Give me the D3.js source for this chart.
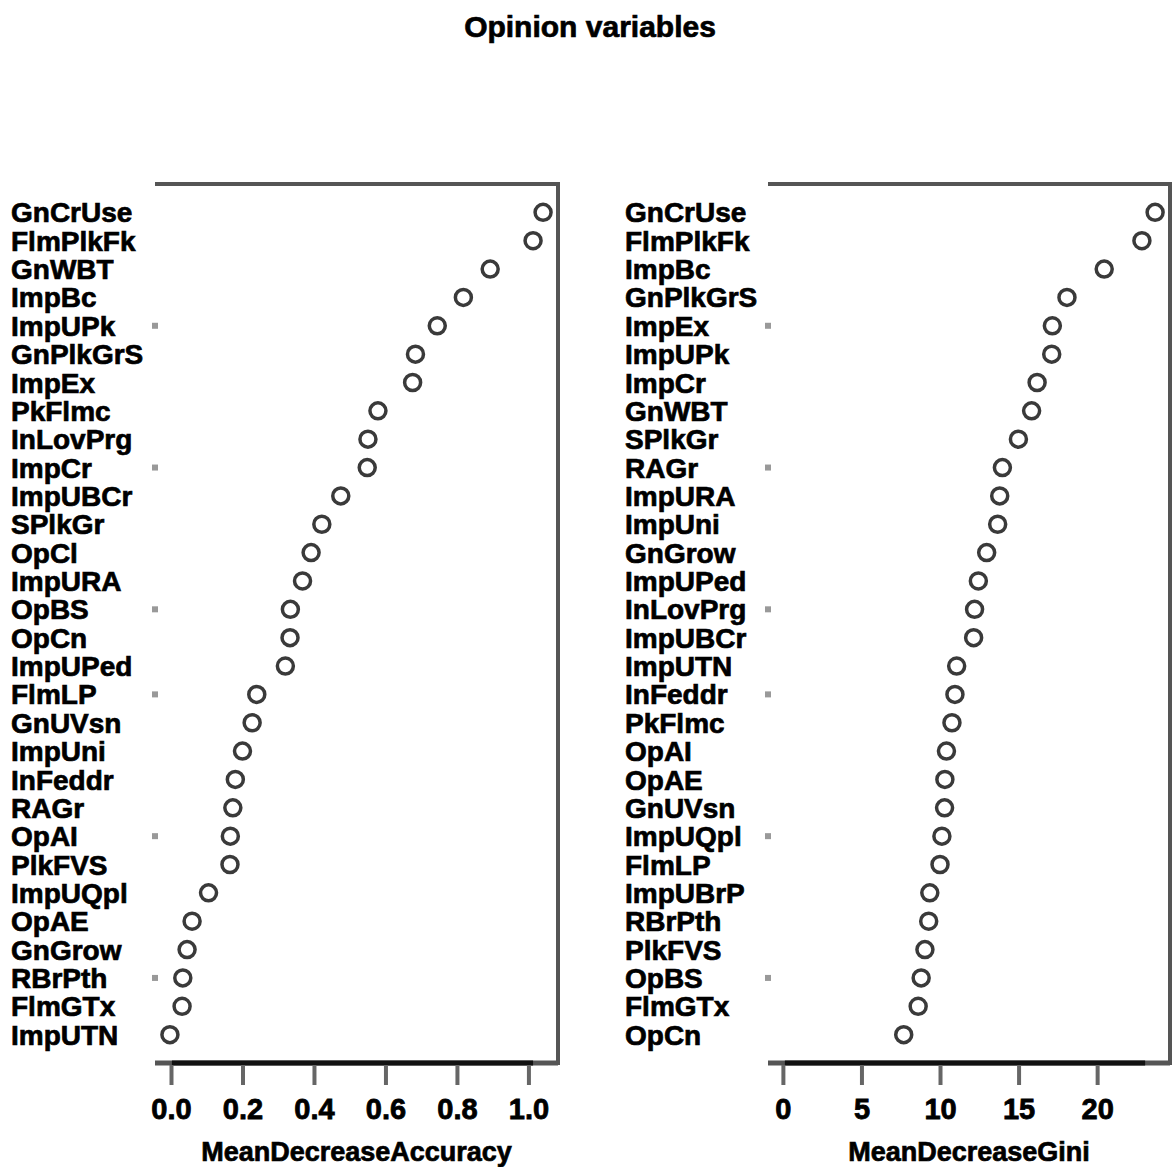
<!DOCTYPE html>
<html>
<head>
<meta charset="utf-8">
<script src="https://cdn.jsdelivr.net/npm/d3@7"></script>
<style>
  html, body { margin: 0; padding: 0; background: #fff; }
  svg text { font-family: "Liberation Sans", Arial, sans-serif; font-weight: bold; fill: #000; }
</style>
</head>
<body>
<svg id="chart" width="1175" height="1167"></svg>
<script>
// Variable importance from the random forest, sorted from most to least important.
const accuracyVars = ["GnCrUse","FlmPlkFk","GnWBT","ImpBc","ImpUPk","GnPlkGrS","ImpEx","PkFlmc",
  "InLovPrg","ImpCr","ImpUBCr","SPlkGr","OpCl","ImpURA","OpBS","OpCn","ImpUPed","FlmLP","GnUVsn",
  "ImpUni","InFeddr","RAGr","OpAI","PlkFVS","ImpUQpl","OpAE","GnGrow","RBrPth","FlmGTx","ImpUTN"];
const accuracyValues = [1.041,1.013,0.893,0.818,0.745,0.684,0.676,0.579,
  0.551,0.549,0.475,0.422,0.392,0.368,0.334,0.333,0.320,0.240,0.227,
  0.200,0.180,0.173,0.166,0.165,0.105,0.059,0.045,0.033,0.031,-0.003];

const giniVars = ["GnCrUse","FlmPlkFk","ImpBc","GnPlkGrS","ImpEx","ImpUPk","ImpCr","GnWBT","SPlkGr",
  "RAGr","ImpURA","ImpUni","GnGrow","ImpUPed","InLovPrg","ImpUBCr","ImpUTN","InFeddr","PkFlmc",
  "OpAI","OpAE","GnUVsn","ImpUQpl","FlmLP","ImpUBrP","RBrPth","PlkFVS","OpBS","FlmGTx","OpCn"];
const giniValues = [23.69,22.85,20.45,18.08,17.15,17.11,16.18,15.83,14.99,
  13.97,13.80,13.67,12.97,12.44,12.20,12.14,11.06,10.95,10.76,
  10.41,10.31,10.29,10.12,10.00,9.35,9.28,9.04,8.80,8.61,7.69];

const accuracyTicks = [0, 0.2, 0.4, 0.6, 0.8, 1.0];
const giniTicks = [0, 5, 10, 15, 20];

// rows that carry a faint guide mark at the left edge of each panel
const guideRows = [5, 10, 15, 18, 23, 28];

const svg = d3.select("#chart");
const plotTop = 184, plotBottom = 1063;

svg.append("text")
  .attr("x", 590).attr("y", 37)
  .attr("text-anchor", "middle")
  .style("font-size", "30px")
  .style("stroke", "#000").style("stroke-width", 0.7)
  .text("Opinion variables");

function panel(names, values, ticks, opts) {
  const lo = opts.fromZero ? 0 : d3.min(values);
  const hi = d3.max(values);
  const pad = 0.04 * (hi - lo);
  const x = d3.scaleLinear().domain([lo - pad, hi + pad]).range([opts.x0, opts.x1]);
  const y = d3.scalePoint().domain(d3.range(names.length)).range([plotTop, plotBottom]).padding(1);

  const g = svg.append("g");

  // frame: top and right in grey, bottom in dark
  g.append("line").attr("x1", opts.x0).attr("x2", opts.x1).attr("y1", plotTop).attr("y2", plotTop)
    .attr("stroke", "#555").attr("stroke-width", 4);
  g.append("line").attr("x1", opts.x1).attr("x2", opts.x1).attr("y1", plotTop - 2).attr("y2", plotBottom + 2)
    .attr("stroke", "#555").attr("stroke-width", 4);
  g.append("line").attr("x1", opts.x0).attr("x2", opts.x1).attr("y1", plotBottom).attr("y2", plotBottom)
    .attr("stroke", "#555").attr("stroke-width", 5);
  g.append("line").attr("x1", x(lo) + 2).attr("x2", x(hi) - 10).attr("y1", plotBottom).attr("y2", plotBottom)
    .attr("stroke", "#111").attr("stroke-width", 5);

  // bottom axis
  const axis = d3.axisBottom(x).tickValues(ticks).tickSize(20).tickPadding(13)
    .tickFormat(opts.fmt);
  const ag = g.append("g").attr("transform", `translate(0,${plotBottom + 2})`).call(axis);
  ag.select(".domain").remove();
  ag.selectAll(".tick line").attr("stroke", "#666").attr("stroke-width", 4);
  ag.selectAll(".tick text")
    .style("font-size", "29px").style("font-family", "'Liberation Sans', Arial, sans-serif")
    .style("font-weight", "bold").attr("fill", "#000")
    .style("stroke", "#000").style("stroke-width", 0.8);

  g.append("text")
    .attr("x", (opts.x0 + opts.x1) / 2).attr("y", 1161)
    .attr("text-anchor", "middle")
    .style("font-size", "27px")
    .style("stroke", "#000").style("stroke-width", 0.7)
    .text(opts.title);

  // guide marks
  g.selectAll("rect.guide").data(guideRows).join("rect")
    .attr("class", "guide")
    .attr("x", opts.x0 - 3).attr("y", d => y(d - 1) - 3)
    .attr("width", 6).attr("height", 6)
    .attr("fill", "#999");

  // variable names
  g.selectAll("text.name").data(names).join("text")
    .attr("class", "name")
    .attr("x", opts.labelX).attr("y", (d, i) => y(i))
    .attr("dy", "0.36em")
    .style("font-size", "28px")
    .style("stroke", "#000").style("stroke-width", 0.7)
    .text(d => d);

  // importance points
  g.selectAll("circle.pt").data(values).join("circle")
    .attr("class", "pt")
    .attr("cx", d => x(d)).attr("cy", (d, i) => y(i))
    .attr("r", 8)
    .attr("fill", "#fff")
    .attr("stroke", "#3a3a3a").attr("stroke-width", 3.5);
}

panel(accuracyVars, accuracyValues, accuracyTicks, {
  x0: 155, x1: 558, labelX: 11, fromZero: false,
  fmt: d3.format(".1f"), title: "MeanDecreaseAccuracy"
});
panel(giniVars, giniValues, giniTicks, {
  x0: 768, x1: 1170, labelX: 625, fromZero: true,
  fmt: d3.format("d"), title: "MeanDecreaseGini"
});
</script>
</body>
</html>
